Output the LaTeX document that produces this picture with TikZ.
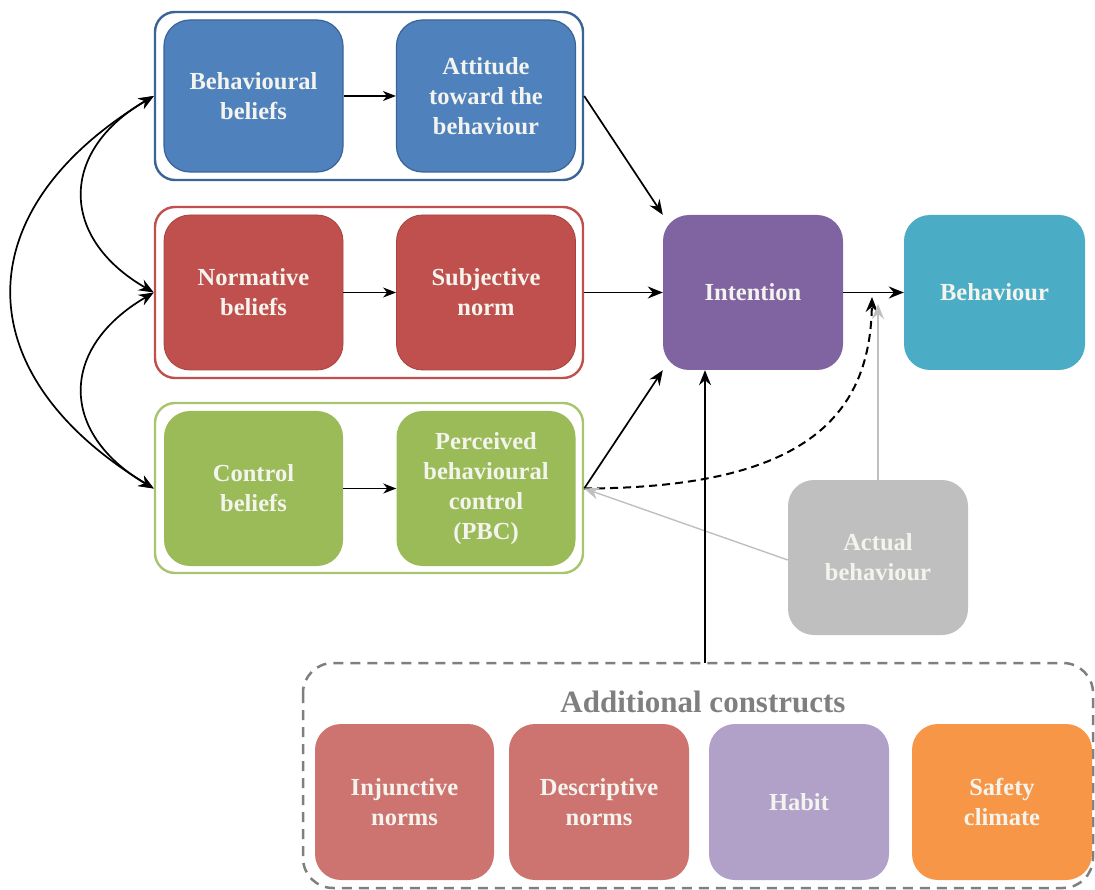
\documentclass[tikz,border=0pt]{standalone}
\usepackage{fontspec}
\setmainfont{Liberation Serif}
\newfontfamily\boxfont{Liberation Serif}
\usetikzlibrary{arrows.meta}
\definecolor{cblue}{HTML}{4F81BD}
\definecolor{cblueD}{HTML}{3A6496}
\definecolor{cred}{HTML}{C0504D}
\definecolor{credD}{HTML}{A8423F}
\definecolor{cgreen}{HTML}{9BBB59}
\definecolor{cgreenD}{HTML}{A9C46E}
\definecolor{cpurple}{HTML}{8064A2}
\definecolor{cteal}{HTML}{4BACC6}
\definecolor{cgray}{HTML}{BFBFBF}
\definecolor{cpink}{HTML}{CD7370}
\definecolor{clav}{HTML}{B1A0C7}
\definecolor{corange}{HTML}{F79646}
\definecolor{cdash}{HTML}{7F7F7F}
\definecolor{ctext}{HTML}{F4F4EE}
\tikzset{
  boxnode/.style={rounded corners=26pt, minimum width=179pt, minimum height=155pt,
    inner sep=0pt, align=center, text=ctext,
    font=\boxfont\bfseries\fontsize{24.5}{30}\selectfont},
  groupbox/.style={rounded corners=20pt, minimum width=428pt, minimum height=170pt,
    inner sep=0pt, line width=2.4pt, fill=white},
  arr/.style={line width=1.7pt, -{Stealth[length=15pt,width=12pt,inset=5pt]}},
  arrs/.style={line width=1.5pt, -{Stealth[length=13pt,width=10pt,inset=4pt]}},
  darr/.style={line width=1.7pt, {Stealth[length=15pt,width=12pt,inset=5pt]}-{Stealth[length=15pt,width=12pt,inset=5pt]}},
  garr/.style={line width=1.4pt, draw=cgray, -{Stealth[length=15pt,width=12pt,inset=5pt]}},
}
\begin{document}
\begin{tikzpicture}[x=1pt,y=-1pt]
\useasboundingbox (0,0) rectangle (1095,890);
% groups
\node[groupbox, draw=cblueD, minimum height=168pt] (gb) at (369,96) {};
\node[groupbox, draw=cred, minimum height=171pt] (gr) at (369,292.5) {};
\node[groupbox, draw=cgreenD] (gg) at (369,488) {};
% boxes
\node[boxnode, fill=cblue, draw=cblueD, line width=1.2pt, minimum height=152pt] (bb) at (253.5,96) {Behavioural\\beliefs};
\node[boxnode, fill=cblue, draw=cblueD, line width=1.2pt, minimum height=152pt] (att) at (486,96) {Attitude\\toward the\\behaviour};
\node[boxnode, fill=cred, draw=credD, line width=0.8pt] (nb) at (253.5,292.5) {Normative\\beliefs};
\node[boxnode, fill=cred, draw=credD, line width=0.8pt] (sn) at (486,292.5) {Subjective\\norm};
\node[boxnode, fill=cgreen] (cb) at (253.5,488.5) {Control\\beliefs};
\node[boxnode, fill=cgreen] (pbc) at (486,488.5) {Perceived\\behavioural\\control\\(PBC)};
\node[boxnode, fill=cpurple, minimum width=180pt] (int) at (753,292.5) {Intention};
\node[boxnode, fill=cteal, minimum width=181pt] (beh) at (994.5,292.5) {Behaviour};
\node[boxnode, fill=cgray, minimum width=180pt] (act) at (878,557.5) {Actual\\behaviour};
% additional constructs
\draw[cdash, line width=2.5pt, dash pattern=on 10pt off 7pt, rounded corners=30pt]
  (303,663) rectangle (1093,888);
\coordinate (addtop) at (705,663);
\node[text=cdash, font=\boxfont\bfseries\fontsize{31}{34}\selectfont] (title) at (703,702) {Additional constructs};
\node[boxnode, fill=cpink, minimum height=156pt] (inj) at (404.5,802) {Injunctive\\norms};
\node[boxnode, fill=cpink, minimum width=180pt, minimum height=156pt] (desc) at (599,802) {Descriptive\\norms};
\node[boxnode, fill=clav, minimum width=180pt, minimum height=156pt] (hab) at (799,802) {Habit};
\node[boxnode, fill=corange, minimum width=180pt, minimum height=156pt] (saf) at (1002,802) {Safety\\climate};
% arrows within groups
\draw[arrs] (bb.east) -- (att.east -| att.west);
\draw[arrs] (nb.east) -- (sn.west);
\draw[arrs] (cb.east) -- (pbc.west);
% to intention
\coordinate (gbE) at (gb.east |- att.east);
\draw[arr] (gbE) -- (int.north west);
\draw[arr] (gr.east |- sn.east) -- (int.west);
\coordinate (gpE) at (gg.east |- pbc.east);
\draw[arr] (gpE) -- (int.south west);
\draw[arr] (int.east) -- (beh.west);
% dashed
\coordinate (mod) at (872,297);
\draw[line width=2pt, dash pattern=on 8pt off 5pt, -{Stealth[length=15pt,width=12pt,inset=5pt]}]
  (gpE) .. controls (800,488) and (870,420) .. (mod);
% actual behaviour
\coordinate (gtip) at (act.north |- 0,304);
\draw[garr] (act.north) -- (gtip);
\draw[garr] (act.west |- 0,560) -- (gpE);
% additional to intention
\draw[arr] (addtop) -- (addtop |- int.south);
% left curves
\coordinate (bL) at (gb.west |- bb.west);
\coordinate (nL) at (gr.west |- nb.west);
\coordinate (cL) at (gg.west |- cb.west);
\draw[darr] (bL) .. controls (-35,210) and (-35,374) .. (cL);
\draw[darr] (bL) .. controls (59,151) and (59,238) .. (nL);
\draw[darr] (nL) .. controls (59,348) and (59,433) .. (cL);
\end{tikzpicture}
\end{document}
